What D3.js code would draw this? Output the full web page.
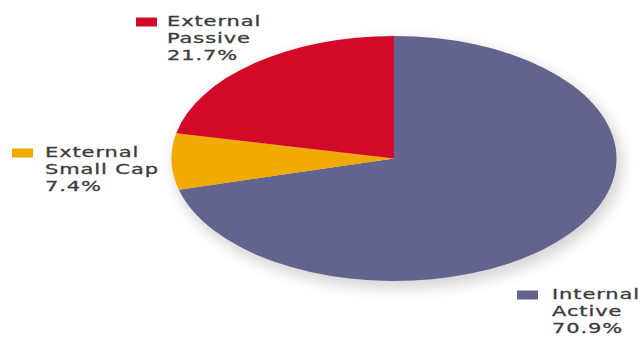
<!DOCTYPE html>
<html>
<head>
<meta charset="utf-8">
<script src="https://cdn.jsdelivr.net/npm/d3@7"></script>
<style>
  body { margin: 0; background: #fff; }
  svg { display: block; }
  .lbl { font-family: "DejaVu Sans", sans-serif; font-size: 14px; fill: #3c3c3c; stroke: #3c3c3c; stroke-width: 0.3px; letter-spacing: 0.6px; }
</style>
</head>
<body>
<div id="chart"></div>
<script>
// Width and height
var chart_width  = 642;
var chart_height = 337;

// Data (clockwise from 12 o'clock)
var categories = ['Internal Active', 'External Small Cap', 'External Passive'];
var label_lines = [['Internal', 'Active'], ['External', 'Small Cap'], ['External', 'Passive']];
var shares     = [70.9, 7.4, 21.7];
var colors     = ['#62648e', '#f0aa00', '#d20a28'];

var slices = categories.map(function(c, i){
	return { name: c, lines: label_lines[i], value: shares[i], color: colors[i] };
});

// Ellipse geometry
var cx = 394, cy = 158.5;
var rx = 222.5, ry = 122.5;

var svg = d3.select('#chart')
	.append('svg')
	.attr('width', chart_width)
	.attr('height', chart_height);

var defs = svg.append('defs');
defs.append('filter')
	.attr('id', 'soft')
	.attr('x', '-20%').attr('y', '-20%')
	.attr('width', '140%').attr('height', '140%')
	.append('feGaussianBlur')
	.attr('stdDeviation', 7);

// soft shadow under the pie
svg.append('ellipse')
	.attr('cx', cx + 4)
	.attr('cy', cy + 6)
	.attr('rx', rx + 2)
	.attr('ry', ry + 2)
	.attr('fill', '#000')
	.attr('opacity', 0.16)
	.attr('filter', 'url(#soft)');

var pie = d3.pie()
	.sort(null)
	.value(function(d){ return d.value; });

var arc = d3.arc()
	.innerRadius(0)
	.outerRadius(ry);

var pieGroup = svg.append('g')
	.attr('transform', 'translate(' + cx + ',' + cy + ') scale(' + (rx / ry) + ',1)');

pieGroup.selectAll('path')
	.data(pie(slices))
	.enter()
	.append('path')
	.attr('d', arc)
	.attr('fill', function(d){ return d.data.color; });

// Legend labels: [swatch x, text x, first baseline]
var legendPos = [
	[517, 552, 298.5],
	[12, 45, 156.5],
	[136, 167, 25.5]
];
var lineGap = 17.5;
var stretch = 1.5;

slices.forEach(function(s, i){
	var p = legendPos[i];
	svg.append('rect')
		.attr('x', p[0])
		.attr('y', p[2] - 8)
		.attr('width', 21)
		.attr('height', 9)
		.attr('fill', s.color);

	var g = svg.append('g')
		.attr('transform', 'translate(' + p[1] + ',' + p[2] + ') scale(' + stretch + ',1)');

	var lines = s.lines.concat([d3.format('.1f')(s.value) + '%']);
	lines.forEach(function(t, j){
		g.append('text')
			.attr('class', 'lbl')
			.attr('x', 0)
			.attr('y', j * lineGap)
			.text(t);
	});
});
</script>
</body>
</html>
